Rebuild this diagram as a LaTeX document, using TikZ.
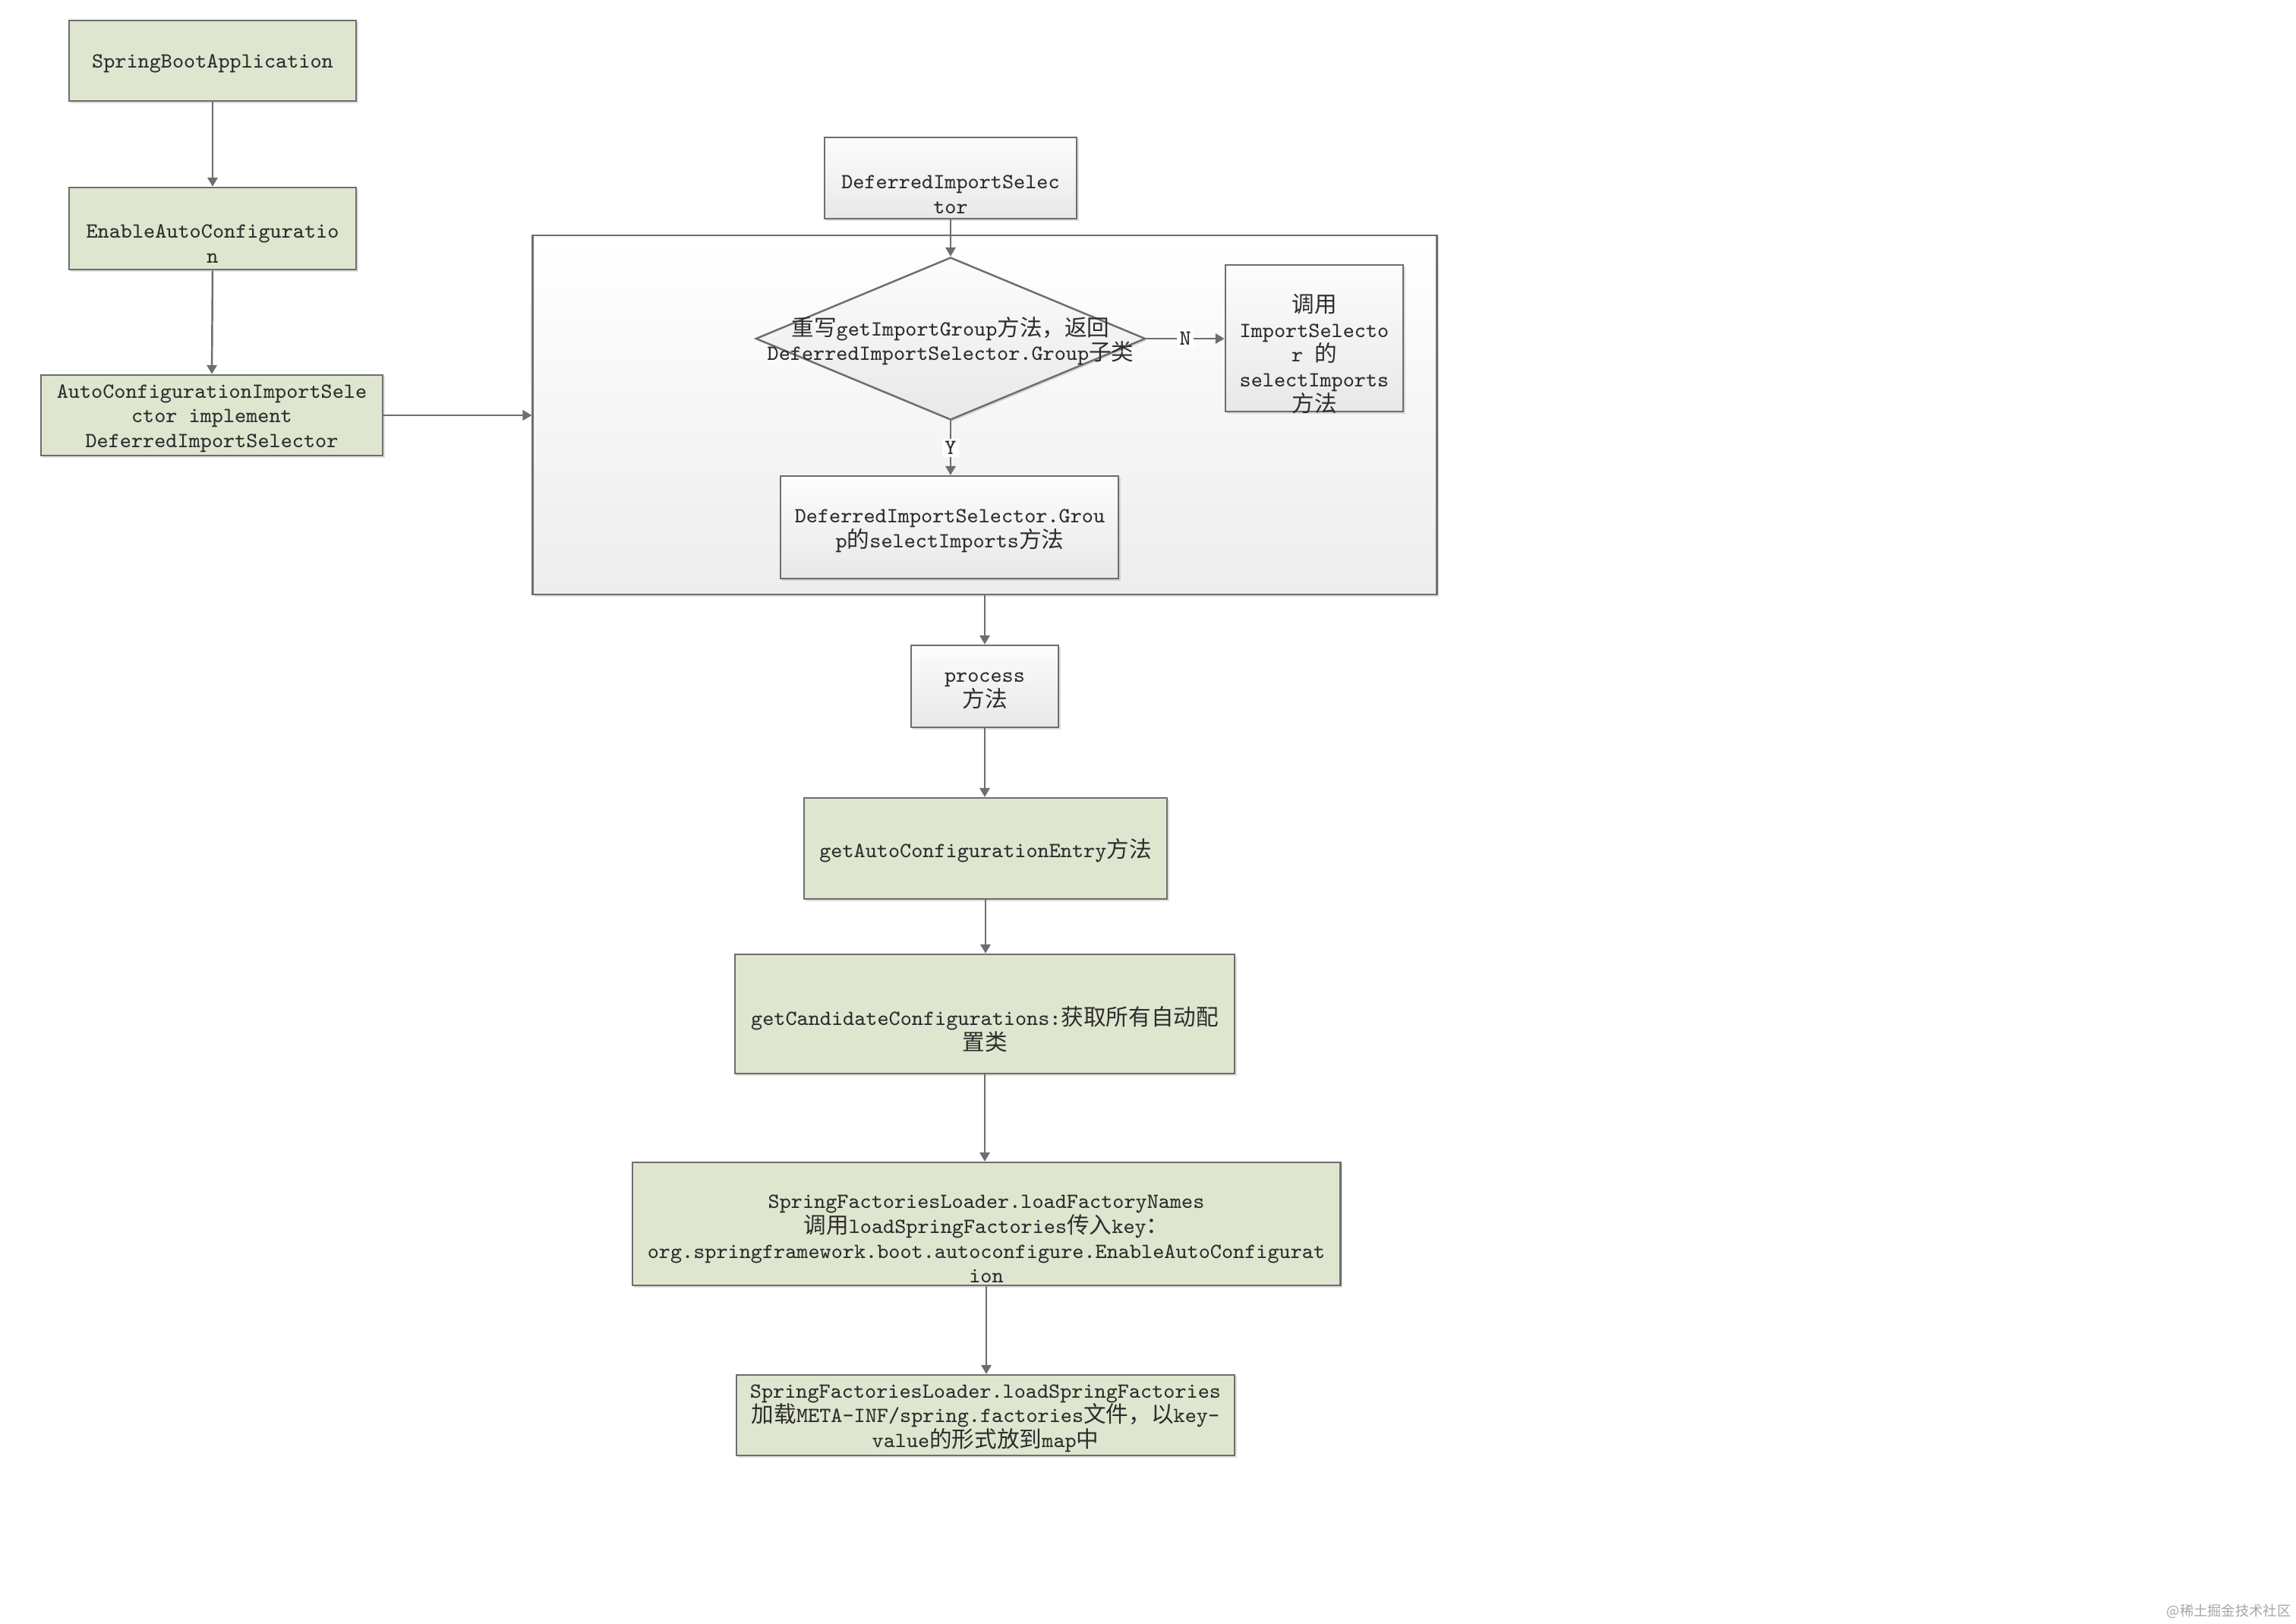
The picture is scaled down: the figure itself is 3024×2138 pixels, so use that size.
\documentclass[tikz,border=0pt]{standalone}
\usepackage{fontspec}
\newfontfamily\cjk[Scale=1.04]{Noto Sans CJK SC}
\usetikzlibrary{shapes.geometric,arrows.meta,shadows,calc}
\definecolor{gfill}{RGB}{223,230,208}
\definecolor{bline}{RGB}{110,110,110}
\definecolor{txt}{RGB}{45,45,45}
\begin{document}
\begin{tikzpicture}[x=0.01cm,y=-0.01cm,
  shad/.style={drop shadow={shadow xshift=0.7pt,shadow yshift=-0.7pt,fill=black,opacity=0.12}},
  box/.style={draw=bline,line width=0.7pt,inner sep=0pt,shad},
  greenbox/.style={box,fill=gfill},
  greybox/.style={box,top color=black!1,bottom color=black!9},
  framebox/.style={box,top color=white,bottom color=black!7},
  txtst/.style={font=\ttfamily\fontsize{8.1}{9.3}\selectfont,text=txt,align=center,inner sep=0pt},
  yn/.style={font=\ttfamily\fontsize{8.1}{9.3}\selectfont,text=txt,fill=white,inner sep=1pt},
  arr/.style={draw=bline,line width=0.7pt,-{Triangle[length=3.4pt,width=3.8pt]}}]
\useasboundingbox (0,0) rectangle (3024,2138);
\fill[white] (0,0) rectangle (3024,2138);

% left column
\node[greenbox,minimum width=3.78cm,minimum height=1.06cm] (sba) at (280,80) {};
\node[greenbox,minimum width=3.78cm,minimum height=1.08cm] (eac) at (280,301) {};
\node[greenbox,minimum width=4.50cm,minimum height=1.06cm] (acis) at (279,547) {};

% frame and inner parts
\node[framebox,minimum width=11.90cm,minimum height=4.73cm] (frame) at (1297,546.5) {};
\node[greybox,minimum width=3.32cm,minimum height=1.07cm] (dis) at (1252,234.5) {};
\node[greybox,diamond,minimum width=5.13cm,minimum height=2.14cm] (dia) at (1252,446) {};
\node[greybox,minimum width=2.34cm,minimum height=1.93cm] (call) at (1731,445.5) {};
\node[greybox,minimum width=4.45cm,minimum height=1.35cm] (grp) at (1250.5,694.5) {};

% lower column
\node[greybox,minimum width=1.94cm,minimum height=1.08cm] (proc) at (1297,904) {};
\node[greenbox,minimum width=4.78cm,minimum height=1.33cm] (gace) at (1298,1117.5) {};
\node[greenbox,minimum width=6.58cm,minimum height=1.57cm] (gcc) at (1297,1335.5) {};
\node[greenbox,minimum width=9.32cm,minimum height=1.62cm] (lfn) at (1299,1612) {};
\node[greenbox,minimum width=6.56cm,minimum height=1.06cm] (lsf) at (1298,1864) {};

% texts
\node[txtst] (sba-t) at (280,84) {SpringBootApplication};
\node[txtst] (eac-t) at (280,321) {EnableAutoConfiguratio\\n};
\node[txtst] (acis-t) at (279,551) {AutoConfigurationImportSele\\ctor implement\\DeferredImportSelector};
\node[txtst] (dis-t) at (1252,256) {DeferredImportSelec\\tor};
\node[txtst] (dia-t) at (1252,449) {{\cjk 重写}getImportGroup{\cjk 方法，返回}\\DeferredImportSelector.Group{\cjk 子类}};
\node[txtst] (call-t) at (1731,466) {{\cjk 调用}\\ImportSelecto\\r {\cjk 的}\\selectImports\\{\cjk 方法}};
\node[txtst] (grp-t) at (1251,699) {DeferredImportSelector.Grou\\p{\cjk 的}selectImports{\cjk 方法}};
\node[txtst] (proc-t) at (1297,910) {process\\{\cjk 方法}};
\node[txtst] (gace-t) at (1298,1120) {getAutoConfigurationEntry{\cjk 方法}};
\node[txtst] (gcc-t) at (1297,1356) {getCandidateConfigurations:{\cjk 获取所有自动配}\\{\cjk 置类}};
\node[txtst] (lfn-t) at (1299,1632) {SpringFactoriesLoader.loadFactoryNames\\{\cjk 调用}loadSpringFactories{\cjk 传入}key{\cjk ：}\\org.springframework.boot.autoconfigure.EnableAutoConfigurat\\ion};
\node[txtst] (lsf-t) at (1298,1868) {SpringFactoriesLoader.loadSpringFactories\\{\cjk 加载}META-INF/spring.factories{\cjk 文件，以}key-\\value{\cjk 的形式放到}map{\cjk 中}};

% connectors
\draw[arr] (sba.south) -- (eac.north);
\draw[arr] (eac.south) -- (acis.north);
\draw[arr] (acis.east) -- (acis.east -| frame.west);
\draw[arr] (dis.south) -- (dia.north);
\draw[arr] (dia.east) -- node[yn] (nlab) {N} (dia.east -| call.west);
\draw[arr] (dia.south) -- node[yn] (ylab) {Y} (dia.south |- grp.north);
\draw[arr] (frame.south) -- (frame.south |- proc.north);
\draw[arr] (proc.south) -- (proc.south |- gace.north);
\draw[arr] (gace.south) -- (gace.south |- gcc.north);
\draw[arr] (gcc.south) -- (gcc.south |- lfn.north);
\draw[arr] (lfn.south) -- (lfn.south |- lsf.north);

% watermark
\node[anchor=east,inner sep=0pt,font=\cjk\fontsize{5}{6}\selectfont,text=black!35] (wm) at (3018,2122) {@稀土掘金技术社区};
\end{tikzpicture}
\end{document}
